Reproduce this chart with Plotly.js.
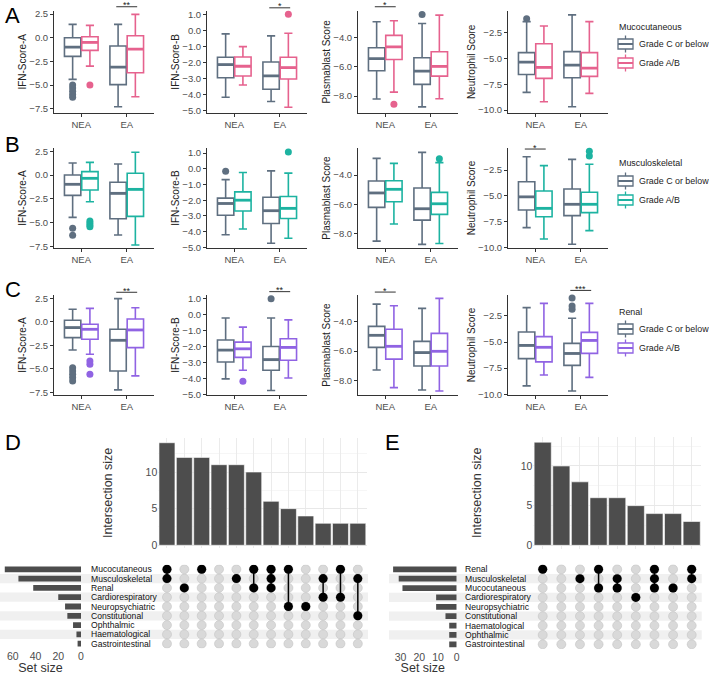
<!DOCTYPE html>
<html><head><meta charset="utf-8">
<script src="https://cdn.plot.ly/plotly-3.0.1.min.js"></script>
<style>html,body{margin:0;padding:0;background:#fff}#chart{width:709px;height:675px}</style>
</head><body><div id="chart"></div>
<script>
// ---------------- DATA ----------------
const scoreNames = ['IFN-Score-A', 'IFN-Score-B', 'Plasmablast Score', 'Neutrophil Score'];
const groupNames = ['NEA', 'EA'];
const gradeNames = ['Grade C or below', 'Grade A/B'];
const domainNames = ['Mucocutaneous', 'Musculoskeletal', 'Renal'];
const panelLetters = ['A', 'B', 'C'];

// box stats: [lower whisker, Q1, median, Q3, upper whisker]; per score: [NEA, EA]
const mucoGradeC = [
  [[-4.4, -1.97, -0.99, 0.0, 1.41], [-7.29, -4.96, -3.1, -0.88, 1.41]],
  [[-4.17, -2.94, -2.12, -1.66, -0.19], [-4.44, -3.67, -2.83, -1.95, -0.31]],
  [[-8.2, -6.27, -5.45, -4.70, -2.93], [-8.73, -7.2, -6.3, -5.39, -3.05]],
  [[-8.29, -6.55, -5.35, -4.44, -1.43], [-9.68, -6.87, -5.64, -4.34, -0.78]]
];
const mucoGradeAB = [
  [[-3.0, -1.34, -0.49, 0.1, 1.3], [-6.23, -3.7, -1.2, 0.21, 2.46]],
  [[-3.4, -2.83, -2.22, -1.64, -0.99], [-4.8, -3.02, -2.31, -1.66, -0.15]],
  [[-7.73, -5.5, -4.64, -3.86, -2.86], [-8.18, -6.64, -5.98, -4.98, -2.48]],
  [[-9.2, -6.93, -5.87, -3.57, -1.85], [-8.39, -6.74, -5.93, -4.44, -1.43]]
];
const mucoOutC = [[[-5.0, -5.3, -5.65, -6.0, -6.3], []], [[], []], [[], [-2.43]], [[-1.14], []]];
const mucoOutAB = [[[-5.0], []], [[], [1.05]], [[-8.55], []], [[], []]];
// significance: [score index, group index, label, y value]
const mucoSig = [[0, 1, '**', 3.27], [1, 1, '*', 1.45], [2, 0, '*', -1.91]];

const muscGradeC = [
  [[-4.46, -2.14, -0.98, 0.0, 1.26], [-6.32, -4.6, -1.93, -0.77, 1.16]],
  [[-4.2, -2.96, -2.21, -1.87, -0.69], [-4.75, -3.49, -2.67, -1.81, -0.13]],
  [[-8.53, -6.22, -5.23, -4.41, -2.86], [-8.75, -7.09, -6.31, -4.89, -2.45]],
  [[-8.08, -6.37, -5.1, -3.63, -1.21], [-9.69, -6.92, -5.82, -4.34, -1.47]]
];
const muscGradeAB = [
  [[-2.81, -1.58, -0.35, 0.35, 1.33], [-7.37, -4.35, -1.51, 0.18, 2.39]],
  [[-3.84, -2.69, -2.0, -1.47, -0.23], [-4.43, -3.17, -2.52, -1.76, -0.27]],
  [[-7.36, -5.83, -4.98, -4.39, -3.2], [-8.69, -6.7, -5.97, -5.19, -3.15]],
  [[-9.18, -7.02, -6.21, -4.53, -2.08], [-8.37, -6.63, -5.82, -4.66, -1.95]]
];
const muscOutC = [[[-5.61, -6.35], []], [[-0.15], []], [[], []], [[], []]];
const muscOutAB = [[[-4.85, -5.05, -5.25, -5.45], []], [[], [1.07]], [[], [-2.88]], [[], [-0.69, -1.15]]];
const muscSig = [[3, 0, '*', -0.47]];

const renalGradeC = [
  [[-2.98, -1.67, -0.6, 0.18, 1.35], [-7.23, -5.21, -1.95, -0.78, 2.48]],
  [[-4.02, -2.96, -2.21, -1.58, -0.19], [-4.75, -3.48, -2.81, -1.98, -0.19]],
  [[-7.3, -5.75, -4.93, -4.32, -2.8], [-8.66, -7.02, -6.11, -5.34, -3.09]],
  [[-9.2, -6.59, -5.32, -4.03, -1.7], [-9.68, -7.23, -6.09, -5.12, -2.72]]
];
const renalGradeAB = [
  [[-3.44, -1.84, -0.78, -0.25, 1.45], [-5.74, -2.73, -0.85, 0.32, 1.52]],
  [[-3.48, -2.67, -2.13, -1.71, -0.77], [-3.96, -2.85, -2.04, -1.5, -0.31]],
  [[-8.5, -6.55, -5.68, -4.52, -2.91], [-8.73, -7.02, -6.02, -4.8, -2.41]],
  [[-8.15, -6.9, -5.5, -4.48, -1.29], [-8.38, -6.08, -4.84, -4.07, -1.29]]
];
const renalOutC = [[[-4.86, -5.21, -5.57, -5.92, -6.28], []], [[], [1.02]], [[], []], [[], [-0.78, -1.54, -1.86]]];
const renalOutAB = [[[-4.15, -4.5, -5.57], []], [[-4.17], []], [[], []], [[], []]];
const renalSig = [[0, 1, '**', 3.16], [1, 1, '**', 1.46], [2, 0, '*', -1.98], [3, 1, '***', -0.05]];

// UpSet D
const setsD = ['Mucocutaneous', 'Musculoskeletal', 'Renal', 'Cardiorespiratory', 'Neuropsychiatric', 'Constitutional', 'Ophthalmic', 'Haematological', 'Gastrointestinal'];
const setSizesD = [67, 55, 42, 20, 14, 12, 7, 4, 3];
const combosD = [
  ['Mucocutaneous', 'Musculoskeletal'], ['Renal'], ['Mucocutaneous'], [], ['Musculoskeletal'],
  ['Mucocutaneous', 'Renal'], ['Mucocutaneous', 'Musculoskeletal', 'Renal'], ['Mucocutaneous', 'Neuropsychiatric'],
  ['Neuropsychiatric'], ['Musculoskeletal', 'Cardiorespiratory'], ['Mucocutaneous', 'Cardiorespiratory'], ['Musculoskeletal', 'Constitutional']
];
const countsD = [14, 12, 12, 11, 11, 10, 6, 5, 4, 3, 3, 3];

// UpSet E
const setsE = ['Renal', 'Musculoskeletal', 'Mucocutaneous', 'Cardiorespiratory', 'Neuropsychiatric', 'Constitutional', 'Haematological', 'Ophthalmic', 'Gastrointestinal'];
const setSizesE = [34, 31, 29, 11, 11, 6, 4, 4, 4];
const combosE = [
  ['Renal'], [], ['Musculoskeletal'], ['Renal', 'Mucocutaneous'], ['Musculoskeletal', 'Mucocutaneous'],
  ['Cardiorespiratory'], ['Renal', 'Musculoskeletal', 'Mucocutaneous'], ['Mucocutaneous'], ['Renal', 'Musculoskeletal']
];
const countsE = [13, 10, 8, 6, 6, 5, 4, 4, 3];

// ---------------- STYLE / LAYOUT ----------------
const W = 709, H = 675;
const fx = p => p / W;
const fy = p => 1 - p / H;
const FONT = 'Liberation Sans, Arial, sans-serif';
const greyColor = '#5F6F80';
const rowColors = ['#E6628E', '#1DB3A1', '#9063E3'];
const colPx = [[54, 154], [207, 307], [358, 458], [508, 608]];
const rowPx = [[11, 112.7], [148, 248], [295, 395]];
const yRanges = [
  [[-7.92, 2.82], [-5.14, 1.25], [-9.13, -2.2], [-10.26, -0.4]],
  [[-7.68, 2.84], [-5.05, 1.33], [-9.0, -2.15], [-10.05, -0.37]],
  [[-7.77, 2.87], [-5.03, 1.25], [-9.0, -2.18], [-10.07, -0.49]]
];
const yDticks = [2.5, 1, 2, 2.5];
const legendTitlePx = [27, 163, 312];
const legendItemPx = [[44, 63], [181, 200], [329, 348]];
const letterPx = [[3, 15], [3, 144], [3, 289]];

const traces = [];
const annotations = [];
const shapes = [];
const layout = {
  width: W, height: H, margin: {l: 0, r: 0, t: 0, b: 0},
  paper_bgcolor: '#fff', plot_bgcolor: 'rgba(0,0,0,0)',
  font: {family: FONT, color: '#222'}, boxmode: 'overlay', showlegend: false,
  annotations: annotations, shapes: shapes
};

// legend key drawn like ggplot's boxplot key
function legendKey(cx, cy, color) {
  const L = {color: color, width: 1.3};
  shapes.push({type: 'line', xref: 'paper', yref: 'paper', x0: fx(cx), x1: fx(cx), y0: fy(cy - 8.5), y1: fy(cy - 5), line: L});
  shapes.push({type: 'line', xref: 'paper', yref: 'paper', x0: fx(cx), x1: fx(cx), y0: fy(cy + 5), y1: fy(cy + 8.5), line: L});
  shapes.push({type: 'rect', xref: 'paper', yref: 'paper', x0: fx(cx - 7.5), x1: fx(cx + 7.5), y0: fy(cy + 5), y1: fy(cy - 5),
    line: L, fillcolor: '#fff'});
  shapes.push({type: 'line', xref: 'paper', yref: 'paper', x0: fx(cx - 7.5), x1: fx(cx + 7.5), y0: fy(cy), y1: fy(cy),
    line: {color: color, width: 2}});
}

const rowsData = [
  {C: mucoGradeC, AB: mucoGradeAB, outC: mucoOutC, outAB: mucoOutAB, sig: mucoSig},
  {C: muscGradeC, AB: muscGradeAB, outC: muscOutC, outAB: muscOutAB, sig: muscSig},
  {C: renalGradeC, AB: renalGradeAB, outC: renalOutC, outAB: renalOutAB, sig: renalSig}
];
const OFF = 0.19, BW = 0.36, XR = [0.4, 2.6];

rowsData.forEach((rd, r) => {
  annotations.push({text: domainNames[r], xref: 'paper', yref: 'paper', x: fx(617), y: fy(legendTitlePx[r]),
    xanchor: 'left', yanchor: 'middle', showarrow: false, font: {size: 8.9, color: '#222'}});
  gradeNames.forEach((gn, gi) => {
    const cy = legendItemPx[r][gi];
    legendKey(625.5, cy, gi === 0 ? greyColor : rowColors[r]);
    annotations.push({text: gn, xref: 'paper', yref: 'paper', x: fx(637), y: fy(cy),
      xanchor: 'left', yanchor: 'middle', showarrow: false, font: {size: 8.9, color: '#222'}});
  });
  annotations.push({text: panelLetters[r], xref: 'paper', yref: 'paper', x: fx(letterPx[r][0]), y: fy(letterPx[r][1]),
    xanchor: 'left', yanchor: 'middle', showarrow: false, font: {size: 22, color: '#000'}});
  for (let s = 0; s < 4; s++) {
    const n = r * 4 + s + 1;
    const xa = 'x' + (n === 1 ? '' : n), ya = 'y' + (n === 1 ? '' : n);
    const xd = [fx(colPx[s][0]), fx(colPx[s][1])];
    const yd = [fy(rowPx[r][1]), fy(rowPx[r][0])];
    const yr = yRanges[r][s];
    layout['xaxis' + (n === 1 ? '' : n)] = {
      domain: xd, range: XR, anchor: ya, tickvals: [1, 2], ticktext: groupNames,
      showline: true, linecolor: '#333', linewidth: 1, ticks: 'outside', ticklen: 3, tickcolor: '#333',
      tickfont: {size: 9.5, color: '#4d4d4d'}, showgrid: false, zeroline: false, fixedrange: true
    };
    layout['yaxis' + (n === 1 ? '' : n)] = {
      domain: yd, range: yr, anchor: xa, tick0: 0, dtick: yDticks[s], tickformat: '.1f',
      showline: true, linecolor: '#333', linewidth: 1, ticks: 'outside', ticklen: 3, tickcolor: '#333',
      tickfont: {size: 9.5, color: '#4d4d4d'}, showgrid: false, zeroline: false, fixedrange: true,
      title: {text: scoreNames[s], font: {size: 10, color: '#222'}, standoff: 0}
    };
    [rd.C, rd.AB].forEach((stats, gi) => {
      const off = gi === 0 ? -OFF : OFF;
      const col = gi === 0 ? greyColor : rowColors[r];
      const st = stats[s];
      traces.push({
        type: 'box', orientation: 'v', xaxis: xa, yaxis: ya, x: [1 + off, 2 + off],
        lowerfence: st.map(v => v[0]), q1: st.map(v => v[1]), median: st.map(v => v[2]),
        q3: st.map(v => v[3]), upperfence: st.map(v => v[4]),
        width: BW, fillcolor: 'rgba(255,255,255,1)', line: {color: col, width: 1.6},
        name: gradeNames[gi], showlegend: false, hoverinfo: 'skip', boxpoints: false
      });
      // thicker median bars
      const mx = [], my = [];
      st.forEach((v, g) => { mx.push(g + 1 + off - BW / 2, g + 1 + off + BW / 2, null); my.push(v[2], v[2], null); });
      traces.push({type: 'scatter', mode: 'lines', xaxis: xa, yaxis: ya, x: mx, y: my,
        line: {color: col, width: 2.8}, showlegend: false, hoverinfo: 'skip'});
      const outs = (gi === 0 ? rd.outC : rd.outAB)[s];
      const ox = [], oy = [];
      outs.forEach((arr, g) => arr.forEach(v => { ox.push(g + 1 + off); oy.push(v); }));
      if (ox.length) traces.push({
        type: 'scatter', mode: 'markers', xaxis: xa, yaxis: ya, x: ox, y: oy,
        marker: {color: col, size: 7}, showlegend: false, hoverinfo: 'skip', cliponaxis: false
      });
    });
    // significance brackets
    rd.sig.filter(sg => sg[0] === s).forEach(sg => {
      const g = sg[1] + 1;
      const toPX = v => xd[0] + (v - XR[0]) / (XR[1] - XR[0]) * (xd[1] - xd[0]);
      const toPY = v => yd[0] + (v - yr[0]) / (yr[1] - yr[0]) * (yd[1] - yd[0]);
      shapes.push({type: 'line', xref: 'paper', yref: 'paper', x0: toPX(g - OFF - 0.04), x1: toPX(g + OFF + 0.04),
        y0: toPY(sg[3]), y1: toPY(sg[3]), line: {color: '#333', width: 1}});
      annotations.push({text: sg[2], xref: 'paper', yref: 'paper', x: toPX(g), y: toPY(sg[3]),
        xanchor: 'center', yanchor: 'bottom', yshift: -5.5, showarrow: false, font: {size: 9, color: '#222'}});
    });
  }
});

// ---------------- UPSET ----------------
function drawUpset(cfg) {
  const nb = cfg.base; // axis numbers: nb bars, nb+1 set size, nb+2 matrix
  const nCol = cfg.counts.length, nRow = cfg.sets.length;
  const xColDom = [fx(cfg.matX[0]), fx(cfg.matX[1])];
  const matYDom = [fy(cfg.matY[1]), fy(cfg.matY[0])];
  const rowRange = [nRow + 0.5, 0.5];
  const colRange = [0.5, nCol + 0.5];
  const tickFont = {size: 10.5, color: '#4d4d4d'};
  // intersection bars
  layout['xaxis' + nb] = {domain: xColDom, range: colRange, anchor: 'y' + nb, showticklabels: false, ticks: '',
    showgrid: true, gridcolor: '#ebebeb', gridwidth: 1, tick0: 1, dtick: 1, zeroline: false, showline: false, fixedrange: true};
  layout['yaxis' + nb] = {domain: [fy(cfg.barY[1]), fy(cfg.barY[0])], range: cfg.barRange, anchor: 'x' + nb,
    tick0: 0, dtick: 5, showgrid: true, gridcolor: '#e8e8e8', gridwidth: 1, zeroline: false, showline: false,
    ticks: '', tickfont: tickFont, fixedrange: true,
    minor: {dtick: 2.5, tick0: 0, showgrid: true, gridcolor: '#f4f4f4', gridwidth: 0.8},
    title: {text: 'Intersection size', font: {size: 12.5, color: '#333'}, standoff: cfg.titleStandoff}};
  traces.push({type: 'bar', xaxis: 'x' + nb, yaxis: 'y' + nb, x: cfg.counts.map((c, i) => i + 1), y: cfg.counts,
    width: 0.92, marker: {color: '#4d4d4d', line: {color: '#ffffff', width: 0.6}}, showlegend: false, hoverinfo: 'skip'});
  // set size bars
  layout['xaxis' + (nb + 1)] = {domain: [fx(cfg.setX[0]), fx(cfg.setX[1])], range: cfg.setRange, anchor: 'y' + (nb + 1),
    tickvals: cfg.setTicks, showgrid: false, zeroline: false, showline: false, ticks: '', tickfont: tickFont, fixedrange: true,
    title: {text: 'Set size', font: {size: 12.5, color: '#333'}, standoff: 4}};
  layout['yaxis' + (nb + 1)] = {domain: matYDom, range: rowRange, anchor: 'x' + (nb + 1), visible: false, fixedrange: true};
  traces.push({type: 'bar', orientation: 'h', xaxis: 'x' + (nb + 1), yaxis: 'y' + (nb + 1),
    x: cfg.sizes, y: cfg.sets.map((s, i) => i + 1), width: 0.62, marker: {color: '#4d4d4d'}, showlegend: false, hoverinfo: 'skip'});
  // matrix
  layout['xaxis' + (nb + 2)] = {domain: xColDom, range: colRange, anchor: 'y' + (nb + 2), visible: false, fixedrange: true};
  layout['yaxis' + (nb + 2)] = {domain: matYDom, range: rowRange, anchor: 'x' + (nb + 2), visible: false, fixedrange: true};
  for (let i = 2; i <= nRow; i += 2) {
    shapes.push({type: 'rect', xref: 'paper', yref: 'y' + (nb + 2), x0: fx(cfg.stripeX[0]), x1: fx(cfg.stripeX[1]),
      y0: i - 0.5, y1: i + 0.5, fillcolor: '#f0f0f0', line: {width: 0}, layer: 'below'});
  }
  const gx = [], gy = [];
  for (let c = 1; c <= nCol; c++) for (let r = 1; r <= nRow; r++) { gx.push(c); gy.push(r); }
  traces.push({type: 'scatter', mode: 'markers', xaxis: 'x' + (nb + 2), yaxis: 'y' + (nb + 2), x: gx, y: gy,
    marker: {color: '#d9d9d9', size: 9, line: {color: '#c4c4c4', width: 0.6}}, showlegend: false, hoverinfo: 'skip'});
  cfg.combos.forEach((combo, ci) => {
    const rows = combo.map(s => cfg.sets.indexOf(s) + 1);
    if (rows.length > 1) {
      traces.push({type: 'scatter', mode: 'lines', xaxis: 'x' + (nb + 2), yaxis: 'y' + (nb + 2),
        x: [ci + 1, ci + 1], y: [Math.min(...rows), Math.max(...rows)], line: {color: '#000', width: 1.5},
        showlegend: false, hoverinfo: 'skip'});
    }
  });
  const fxs = [], fys = [];
  cfg.combos.forEach((combo, ci) => combo.forEach(s => { fxs.push(ci + 1); fys.push(cfg.sets.indexOf(s) + 1); }));
  traces.push({type: 'scatter', mode: 'markers', xaxis: 'x' + (nb + 2), yaxis: 'y' + (nb + 2), x: fxs, y: fys,
    marker: {color: '#000', size: 9}, showlegend: false, hoverinfo: 'skip'});
  cfg.sets.forEach((s, i) => annotations.push({text: s, xref: 'paper', yref: 'y' + (nb + 2), x: fx(cfg.labelX), y: i + 1,
    xanchor: 'left', yanchor: 'middle', showarrow: false, font: {size: 8.6, color: '#111'}}));
  annotations.push({text: cfg.letter, xref: 'paper', yref: 'paper', x: fx(cfg.letterPx[0]), y: fy(cfg.letterPx[1]),
    xanchor: 'left', yanchor: 'middle', showarrow: false, font: {size: 22, color: '#000'}});
}

drawUpset({base: 13, letter: 'D', letterPx: [3, 442], sets: setsD, sizes: setSizesD, combos: combosD, counts: countsD,
  matX: [158.3, 366.5], matY: [564.65, 648.35], barY: [437.6, 548.2], barRange: [-0.4, 14.7],
  setX: [0, 81], setRange: [71.2, 0], setTicks: [0, 20, 40, 60], labelX: 88.5, stripeX: [0, 368], titleStandoff: 30});
drawUpset({base: 16, letter: 'E', letterPx: [383, 442], sets: setsE, sizes: setSizesE, combos: combosE, counts: countsE,
  matX: [533.4, 701], matY: [564.6, 649], barY: [437, 548.5], barRange: [-0.4, 13.65],
  setX: [389, 456.7], setRange: [36.2, 0], setTicks: [0, 10, 20, 30], labelX: 462.5, stripeX: [389, 701.7], titleStandoff: 36});

Plotly.newPlot('chart', traces, layout, {staticPlot: true, displayModeBar: false});
</script>
</body></html>
